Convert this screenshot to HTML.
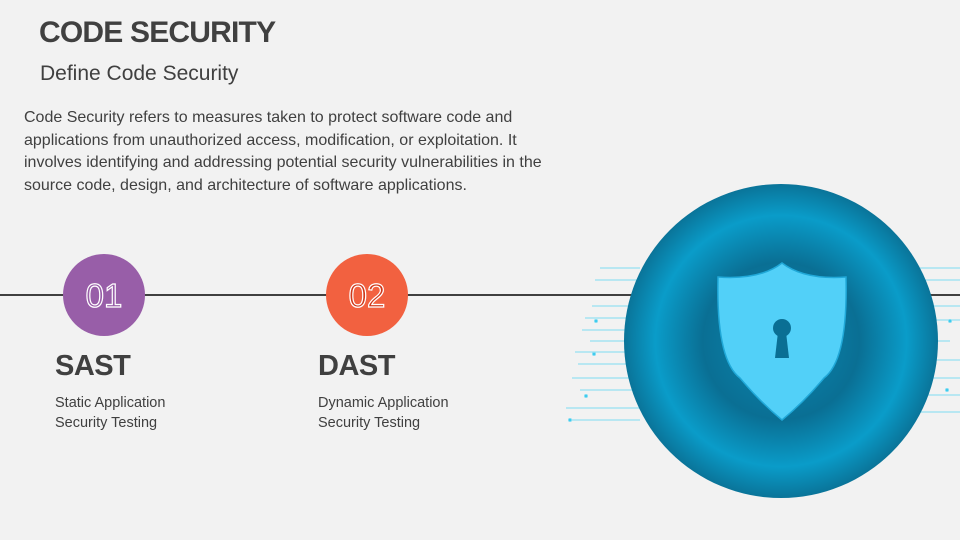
<!DOCTYPE html>
<html><head><style>
body{margin:0;width:960px;height:540px;background:#f2f2f2;overflow:hidden;position:relative;font-family:"Liberation Sans",Calibri,sans-serif;color:#404040}
.t{position:absolute;left:39px;top:16px;font-size:30px;font-weight:bold;letter-spacing:-0.8px}
.s{position:absolute;left:40px;top:62px;font-size:21px}
.p{position:absolute;left:24px;top:107px;font-size:16px;line-height:22.5px;width:540px}
.h{position:absolute;font-size:29px;font-weight:bold;letter-spacing:-0.5px}
.d{position:absolute;font-size:14.5px;line-height:20px}
</style></head><body>
<div class="t">CODE SECURITY</div>
<div class="s">Define Code Security</div>
<div class="p">Code Security refers to measures taken to protect software code and applications from unauthorized access, modification, or exploitation. It involves identifying and addressing potential security vulnerabilities in the source code, design, and architecture of software applications.</div>
<svg width="960" height="540" style="position:absolute;left:0;top:0">
<defs>
<radialGradient id="g" cx="781" cy="341" r="157" gradientUnits="userSpaceOnUse">
<stop offset="0" stop-color="#0a89b2"/>
<stop offset="0.5" stop-color="#0a6f94"/>
<stop offset="0.8" stop-color="#0a9cc9"/>
<stop offset="1" stop-color="#0a7499"/>
</radialGradient>
</defs>
<line x1="0" y1="295" x2="960" y2="295" stroke="#404040" stroke-width="2"/>
<g stroke="#7fdcf2" stroke-width="1" fill="#2cc6ec">
<line x1="600" y1="268" x2="640" y2="268"/><line x1="595" y1="280" x2="640" y2="280"/>
<line x1="592" y1="306" x2="640" y2="306"/><line x1="585" y1="318" x2="640" y2="318"/>
<line x1="582" y1="330" x2="640" y2="330"/><line x1="590" y1="341" x2="640" y2="341"/>
<line x1="575" y1="352" x2="640" y2="352"/><line x1="578" y1="364" x2="640" y2="364"/>
<line x1="572" y1="378" x2="640" y2="378"/><line x1="580" y1="390" x2="640" y2="390"/>
<line x1="566" y1="408" x2="640" y2="408"/><line x1="570" y1="420" x2="640" y2="420"/>
<line x1="920" y1="268" x2="960" y2="268"/><line x1="920" y1="280" x2="960" y2="280"/>
<line x1="920" y1="306" x2="960" y2="306"/><line x1="920" y1="320" x2="960" y2="320"/>
<line x1="920" y1="341" x2="950" y2="341"/><line x1="920" y1="360" x2="960" y2="360"/>
<line x1="920" y1="378" x2="960" y2="378"/><line x1="920" y1="395" x2="960" y2="395"/>
<line x1="920" y1="412" x2="960" y2="412"/>
<circle cx="596" cy="321" r="1.5"/><circle cx="594" cy="354" r="1.5"/><circle cx="586" cy="396" r="1.5"/><circle cx="570" cy="420" r="1.5"/><circle cx="950" cy="321" r="1.5"/><circle cx="947" cy="390" r="1.5"/>
</g>
<circle cx="781" cy="341" r="157" fill="url(#g)"/>
<path d="M782 263 Q760 280 718 277 Q716 360 740 378 Q760 402 782 420 Q804 402 824 378 Q848 360 846 277 Q804 280 782 263Z" fill="#52d0f8" stroke="#20a8d8" stroke-width="1.5"/>
<circle cx="782" cy="328" r="9" fill="#0a6f94"/>
<path d="M778 332 L786 332 L789 358 L775 358Z" fill="#0a6f94"/>
<circle cx="104" cy="295" r="41" fill="#985ea8"/>
<circle cx="367" cy="295" r="41" fill="#f26140"/>
<text x="104" y="307" text-anchor="middle" font-size="33" fill="#985ea8" stroke="#fff" stroke-width="1.2" font-family="Liberation Sans,sans-serif">01</text>
<text x="367" y="307" text-anchor="middle" font-size="33" fill="#d0381a" stroke="#fff" stroke-width="1.2" font-family="Liberation Sans,sans-serif">02</text>
</svg>
<div class="h" style="left:55px;top:350px">SAST</div>
<div class="d" style="left:55px;top:393px">Static Application<br>Security Testing</div>
<div class="h" style="left:318px;top:350px">DAST</div>
<div class="d" style="left:318px;top:393px">Dynamic Application<br>Security Testing</div>
</body></html>
